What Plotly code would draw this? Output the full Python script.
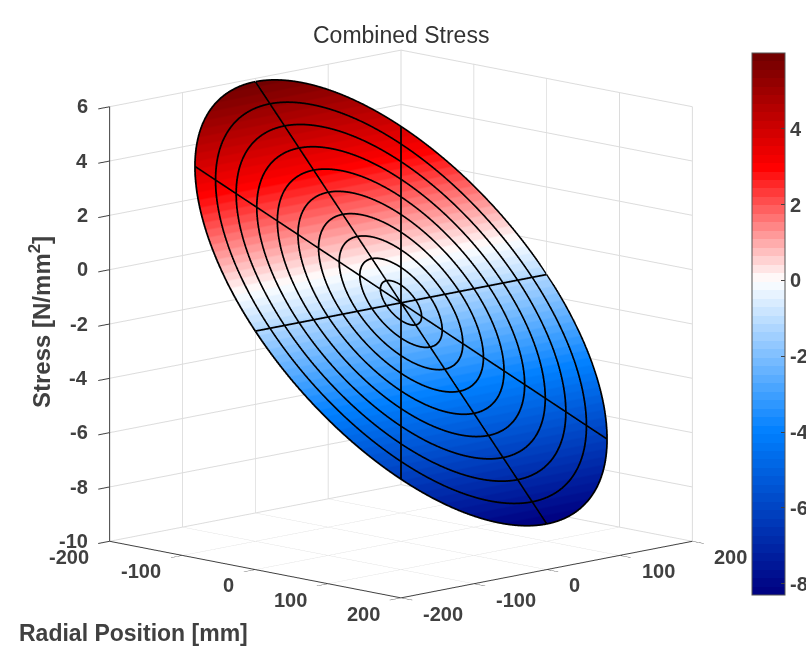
import numpy as np
import plotly.graph_objects as go

# Values
title_text = "Combined Stress"
x_title = "Radial Position [mm]"
z_title = "Stress [N/mm<sup>2</sup>]"
xy_ticks = [-200, -100, 0, 100, 200]
xy_labels = ["-200", "-100", "0", "100", "200"]
z_ticks = [-10, -8, -6, -4, -2, 0, 2, 4, 6]
z_labels = ["-10", "-8", "-6", "-4", "-2", "0", "2", "4", "6"]
cbar_ticks = [-8, -6, -4, -2, 0, 2, 4]
cbar_labels = ["-8", "-6", "-4", "-2", "0", "2", "4"]
ring_radii = [20, 40, 60, 80, 100, 120, 140, 160, 180, 200]
spoke_angles_deg = [0, 45, 90, 135, 180, 225, 270, 315]
stress_at_center = -1.25
stress_at_edge_neg_x = 5.85   # stress at x = -200
cmin, cmax = -8.3, 6.0
# colormap anchors: stress value, colour
anchor_values = [-8.3, -4.0, 0.0, 3.0, 6.0]
anchor_colors = [(0, 0, 128), (0, 128, 255), (255, 255, 255), (255, 0, 0), (110, 0, 0)]
n_bands = 64

def stress(x):
    return stress_at_center + (stress_at_edge_neg_x - stress_at_center) * (-np.asarray(x) / 200.0)

def band_colorscale():
    scale = []
    vals = np.array(anchor_values)
    cols = np.array(anchor_colors, dtype=float)
    for i in range(n_bands):
        v = cmin + (i + 0.5) / n_bands * (cmax - cmin)
        c = [np.interp(v, vals, cols[:, k]) for k in range(3)]
        s = f"rgb({int(c[0])},{int(c[1])},{int(c[2])})"
        scale.append([i / n_bands, s])
        scale.append([(i + 1) / n_bands, s])
    return scale

r_grid = np.linspace(0, 200, 41)
t_grid = np.linspace(0, 2 * np.pi, 181)
R, T = np.meshgrid(r_grid, t_grid)
X = R * np.cos(T)
Y = R * np.sin(T)
Z = stress(X)

tick_font = dict(family="Liberation Sans", size=20, color="#404040", weight="bold")

fig = go.Figure()
fig.add_trace(go.Surface(
    x=X, y=Y, z=Z, surfacecolor=Z, cmin=cmin, cmax=cmax,
    colorscale=band_colorscale(),
    lighting=dict(ambient=1, diffuse=0, specular=0, roughness=1, fresnel=0),
    hoverinfo="skip",
    colorbar=dict(
        thickness=33, thicknessmode="pixels", len=542, lenmode="pixels",
        x=752 / 806, xanchor="left", y=1 - 53 / 654, yanchor="top",
        xpad=0, ypad=0,
        tickmode="array", tickvals=cbar_ticks, ticktext=cbar_labels,
        ticks="inside", ticklen=4, tickcolor="#404040",
        outlinecolor="#555555", outlinewidth=1,
        tickfont=tick_font,
    ),
))

line_kw = dict(mode="lines", showlegend=False, hoverinfo="skip",
               line=dict(color="black", width=3.5))
theta = np.linspace(0, 2 * np.pi, 241)
for r in ring_radii:
    xs = r * np.cos(theta)
    ys = r * np.sin(theta)
    fig.add_trace(go.Scatter3d(x=xs, y=ys, z=stress(xs) + 0.03, **line_kw))
for a in spoke_angles_deg:
    rs = np.array([0.0, 200.0])
    xs = rs * np.cos(np.radians(a))
    ys = rs * np.sin(np.radians(a))
    fig.add_trace(go.Scatter3d(x=xs, y=ys, z=stress(xs) + 0.03, **line_kw))

def axis(rng, ticks):
    return dict(
        range=rng, tickmode="array", tickvals=ticks, showticklabels=True, ticktext=[" "] * len(ticks),
        title=dict(text=""),
        showbackground=True, backgroundcolor="white",
        gridcolor="#dcdcdc", gridwidth=2, showline=True, linecolor="#404040", linewidth=2,
        ticks="outside", ticklen=16, tickwidth=2, tickcolor="#404040", zeroline=False, showspikes=False,
        autorange=False,
    )

# tick labels, anchored on the axes' own data coordinates
scene_notes = []
for v, t in zip(xy_ticks, xy_labels):
    scene_notes.append(dict(x=v, y=-200, z=-10, text=t, showarrow=False, font=tick_font,
                            xanchor="right", yanchor="middle", xshift=-19, yshift=-16))
    scene_notes.append(dict(x=200, y=v, z=-10, text=t, showarrow=False, font=tick_font,
                            xanchor="left", yanchor="middle", xshift=20, yshift=-16))
for v, t in zip(z_ticks, z_labels):
    scene_notes.append(dict(x=-200, y=-200, z=v, text=t, showarrow=False, font=tick_font,
                            xanchor="right", yanchor="middle", xshift=-20, yshift=0))

zoom = 1.30
fig.update_layout(
    width=806, height=654, paper_bgcolor="white", autosize=False,
    margin=dict(l=0, r=0, t=0, b=0, autoexpand=False),
    scene=dict(
        domain=dict(x=[0, 0.995], y=[0.02, 0.99]),
        xaxis=axis([-200, 200], xy_ticks),
        yaxis=axis([-200, 200], xy_ticks),
        zaxis=axis([-10, 6], z_ticks),
        aspectmode="manual", aspectratio=dict(x=zoom, y=zoom, z=1.075 * zoom),
        camera=dict(
            projection=dict(type="orthographic"),
            center=dict(x=0, y=0, z=0),
            up=dict(x=0, y=0, z=1),
            eye=dict(x=1.3, y=-1.3, z=0.364),
        ),
        annotations=scene_notes,
    ),
    annotations=[
        dict(text=title_text, x=401 / 806, y=1 - 35 / 654, xref="paper", yref="paper",
             xanchor="center", yanchor="middle",
             showarrow=False, font=dict(family="Liberation Sans", size=23, color="#333333")),
        dict(text=x_title, x=133 / 806, y=1 - 633 / 654, xref="paper", yref="paper",
             xanchor="center", yanchor="middle",
             showarrow=False, font=dict(family="Liberation Sans", size=23, color="#404040", weight="bold")),
        dict(text=z_title, x=40 / 806, y=1 - 322 / 654, xref="paper", yref="paper", textangle=-90,
             xanchor="center", yanchor="middle",
             showarrow=False, font=dict(family="Liberation Sans", size=24, color="#404040", weight="bold")),
    ],
)
fig.write_html("out.html", config={"displayModeBar": False},
               post_script="document.body.style.margin='0';")
